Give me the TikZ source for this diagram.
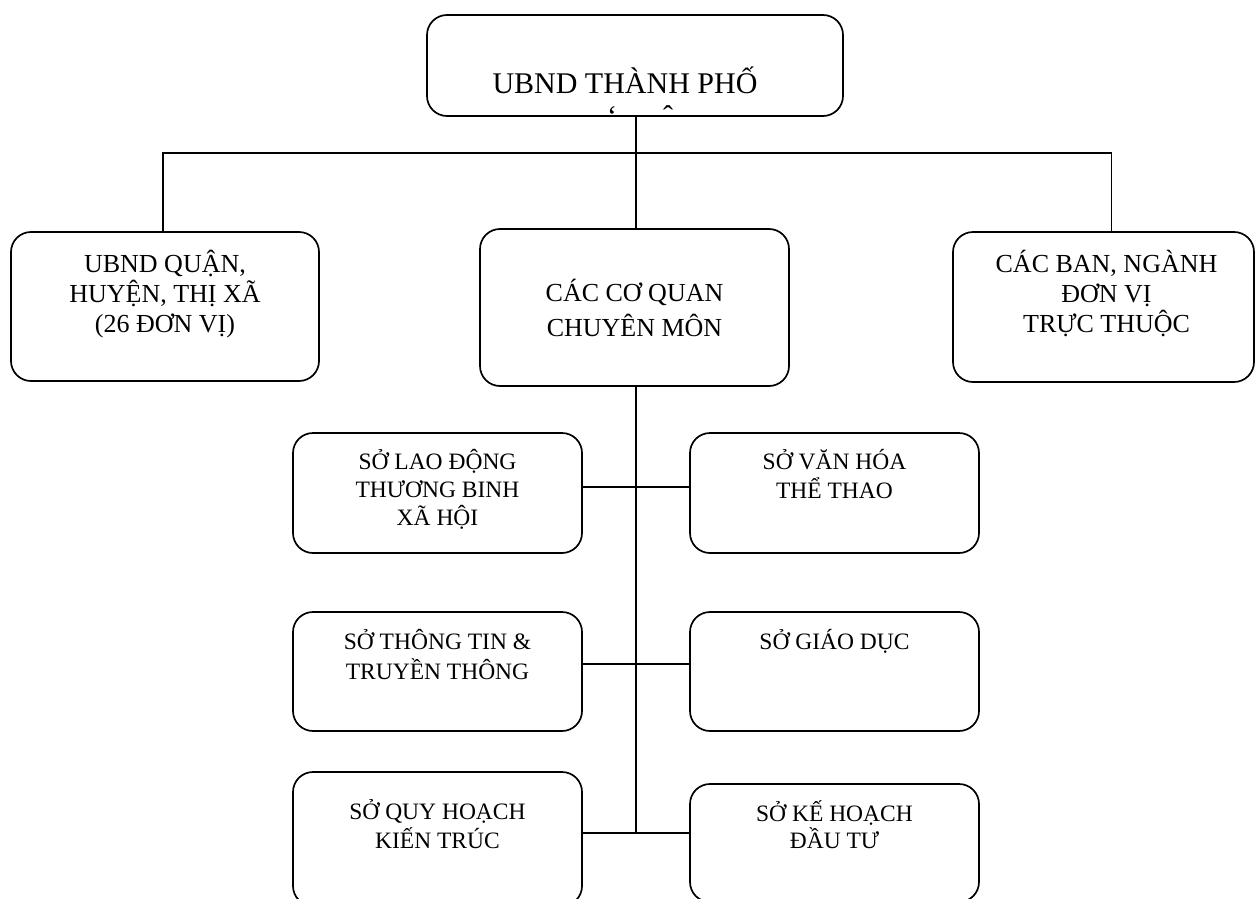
\documentclass[tikz,border=0pt]{standalone}
\usepackage{fontspec}
\setmainfont{Liberation Serif}
\usetikzlibrary{calc}
\begin{document}
\begin{tikzpicture}[x=1pt,y=-1pt,
  box/.style={draw, line width=1.7pt, rounded corners=20pt, inner sep=0pt},
  conn/.style={line width=1.5pt},
  txt/.style={align=center, anchor=base, inner sep=0pt},
  fbig/.style={font=\fontsize{26}{30}\selectfont},
  fso/.style={font=\fontsize{23.5}{28.5}\selectfont}]
\useasboundingbox (0,0) rectangle (1255,899);
\clip (0,0) rectangle (1255,899);
% boxes
\node[box, minimum width=416, minimum height=101] (top) at (635,65.5) {};
\node[box, minimum width=308, minimum height=149] (L) at (165,306.5) {};
\node[box, minimum width=309, minimum height=157] (C) at (634.5,307.5) {};
\node[box, minimum width=301, minimum height=150] (R) at (1103.5,307) {};
\node[box, minimum width=289, minimum height=120] (S1L) at (437.5,493) {};
\node[box, minimum width=289, minimum height=120] (S1R) at (834.5,493) {};
\node[box, minimum width=289, minimum height=119] (S2L) at (437.5,671.5) {};
\node[box, minimum width=289, minimum height=119] (S2R) at (834.5,671.5) {};
\node[box, minimum width=289, minimum height=134] (S3L) at (437.5,839) {};
\node[box, minimum width=289, minimum height=118] (S3R) at (834.5,843) {};
% texts (anchor base = last line baseline)
\node[txt, font=\fontsize{30}{36}\selectfont] (toptxt) at (625,93) {UBND THÀNH PHỐ};
\node[txt, font=\fontsize{30}{36}\selectfont] (mark1) at (612,126) {\char"60};
\node[txt, font=\fontsize{30}{36}\selectfont] (mark2) at (668,126) {ˆ};
\node[txt, fbig] (Ltxt) at ([yshift=-101]L.north) {UBND QUẬN,\\HUYỆN, THỊ XÃ\\(26 ĐƠN VỊ)};
\node[txt, font=\fontsize{26}{35}\selectfont] (Ctxt) at ([yshift=-108]C.north) {CÁC CƠ QUAN\\CHUYÊN MÔN};
\node[txt, fbig] (Rtxt) at ([xshift=3,yshift=-101]R.north) {CÁC BAN, NGÀNH\\ĐƠN VỊ\\TRỰC THUỘC};
\node[txt, font=\fontsize{23.5}{28}\selectfont] (S1Ltxt) at ([yshift=-93]S1L.north) {SỞ LAO ĐỘNG\\THƯƠNG BINH\\XÃ HỘI};
\node[txt, fso] (S1Rtxt) at ([yshift=-66]S1R.north) {SỞ VĂN HÓA\\THỂ THAO};
\node[txt, font=\fontsize{23.5}{29.5}\selectfont] (S2Ltxt) at ([yshift=-68]S2L.north) {SỞ THÔNG TIN \&\\TRUYỀN THÔNG};
\node[txt, fso] (S2Rtxt) at ([yshift=-38]S2R.north) {SỞ GIÁO DỤC};
\node[txt, font=\fontsize{23.5}{29}\selectfont] (S3Ltxt) at ([yshift=-77]S3L.north) {SỞ QUY HOẠCH\\KIẾN TRÚC};
\node[txt, font=\fontsize{23.5}{27}\selectfont] (S3Rtxt) at ([yshift=-65]S3R.north) {SỞ KẾ HOẠCH\\ĐẦU TƯ};
% connectors
\coordinate (bus) at (636,153);
\coordinate (j1) at (636,487);
\coordinate (j2) at (636,664);
\coordinate (spineend) at (636,833);
\draw[conn] (top.south -| bus) -- (bus);
\draw[conn] ([xshift=-2]L.north) |- (bus);
\draw[conn] (bus) -| ([xshift=8]R.north);
\draw[conn] (bus) -- (bus |- C.north);
\draw[conn] (C.south -| bus) -- (spineend);
\draw[conn] (S1L.east |- j1) -- (S1R.west |- j1);
\draw[conn] (S2L.east |- j2) -- (S2R.west |- j2);
\draw[conn] (S3L.east |- spineend) -- (S3R.west |- spineend);
\end{tikzpicture}
\end{document}
